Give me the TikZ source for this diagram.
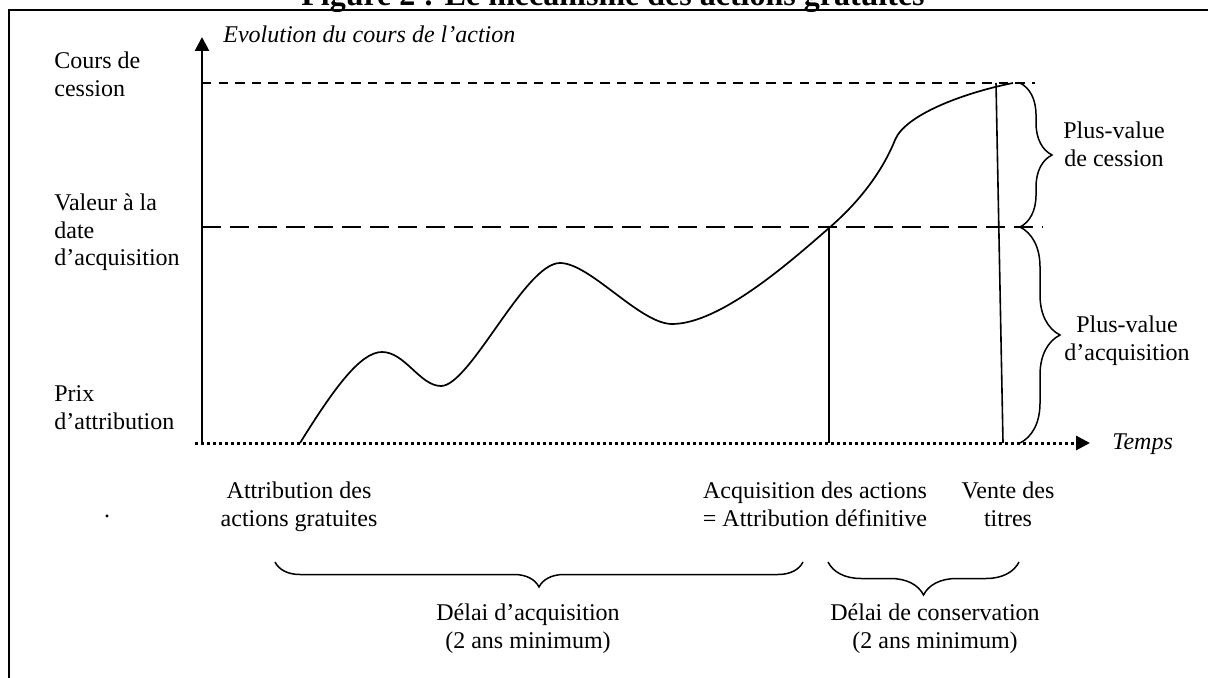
\documentclass[tikz,border=0pt]{standalone}
\usepackage{fontspec}
\setmainfont{Liberation Serif}
\usetikzlibrary{arrows.meta, decorations.pathreplacing}

\begin{document}
\begin{tikzpicture}[
    x=0.5pt, y=-0.5pt,
    every node/.style={font=\fontsize{12}{13.8}\selectfont, inner sep=0pt},
    lbl/.style={anchor=north west, align=left},
    clbl/.style={anchor=north, align=center},
    axisline/.style={line width=1.3pt, -{Triangle[length=7pt, width=7pt]}},
    price/.style={line width=0.85pt},
    dateline/.style={line width=0.8pt},
    levelline/.style={line width=1.2pt},
    bracket/.style={line width=0.75pt, decorate, decoration={brace, amplitude=#1}}
]
    \useasboundingbox (0,0) rectangle (1208,678);

    % Frame and title
    \draw[line width=1.1pt] (9,678) -- (9,10) -- (1208,10);
    \node[font=\fontsize{16}{18}\selectfont\bfseries, anchor=base] (title) at (613,6) {Figure 2 : Le mécanisme des actions gratuites};

    % Axes
    \coordinate (O) at (202,443);
    \coordinate (ytop) at (202,37);
    \coordinate (xstart) at (195,443);
    \coordinate (xend) at (1090,443);
    \draw[axisline] (O) -- (ytop);
    \draw[axisline, line width=1.5pt, dash pattern=on 1.5pt off 1.5pt] (xstart) -- (xend);

    % Price levels
    \coordinate (cess) at (202,83);
    \coordinate (cessend) at (1035,83);
    \coordinate (acqv) at (202,227);
    \coordinate (acqvend) at (1043,227);
    \draw[levelline, dash pattern=on 4.7pt off 3.6pt] (cess) -- (cessend);
    \draw[levelline, dash pattern=on 9.5pt off 4.5pt] (acqv) -- (acqvend);

    % Share price
    \coordinate (attr) at (300,443);
    \coordinate (acq) at (829,228);
    \draw[price] (attr) .. controls (333,390) and (360,352) .. (382,352)
        .. controls (405,352) and (420,386) .. (441,386)
        .. controls (470,386) and (525,263) .. (560,263)
        .. controls (590,263) and (640,324) .. (672,324)
        .. controls (720,324) and (790,262) .. (acq)
        .. controls (865,197) and (885,165) .. (895,140)
        .. controls (905,115) and (963,93) .. (1013,83);

    % Dates
    \coordinate (sale) at (996,83);
    \coordinate (salebase) at (1003,443);
    \draw[dateline] (acq) -- (acq |- O);
    \draw[dateline] (sale) -- (salebase);

    % Braces
    \coordinate (br1) at (1020,83);
    \coordinate (br2) at (1020,227);
    \coordinate (br3) at (1020,443);
    \draw[bracket=16pt] (br1) -- (br2);
    \draw[bracket=20pt] (br2) -- (br3);
    \coordinate (bl1) at (275,562);
    \coordinate (bl2) at (803,562);
    \coordinate (bl3) at (828,562);
    \coordinate (bl4) at (1019,562);
    \draw[bracket=12.5pt] (bl2) -- (bl1);
    \draw[bracket=16.5pt] (bl4) -- (bl3);

    % Labels
    \node[anchor=base west, font=\fontsize{12}{13.8}\selectfont\itshape] (evol) at (223,43) {Evolution du cours de l’action};
    \node[anchor=base west, font=\fontsize{12}{13.8}\selectfont\itshape] (temps) at (1112,449) {Temps};
    \node[lbl] (cours) at (54,51.6) {Cours de\\cession};
    \node[lbl] (valeur) at (54,193.6) {Valeur à la\\date\\d’acquisition};
    \node[lbl] (prix) at (54,385.6) {Prix\\d’attribution};
    \node[clbl] (pvces) at (1114,121.6) {Plus-value\\de cession};
    \node[clbl] (pvacq) at (1127,315.6) {Plus-value\\d’acquisition};
    \node[clbl] (attrib) at (299,481.6) {Attribution des\\actions gratuites};
    \node[clbl] (acquis) at (815,481.6) {Acquisition des actions\\= Attribution définitive};
    \node[clbl] (vente) at (1008,481.6) {Vente des\\titres};
    \node[clbl] (delacq) at (528,603.6) {Délai d’acquisition\\(2 ans minimum)};
    \node[clbl] (delcons) at (935,603.6) {Délai de conservation\\(2 ans minimum)};
    \node[anchor=base] (dot) at (107,517) {.};
\end{tikzpicture}
\end{document}
